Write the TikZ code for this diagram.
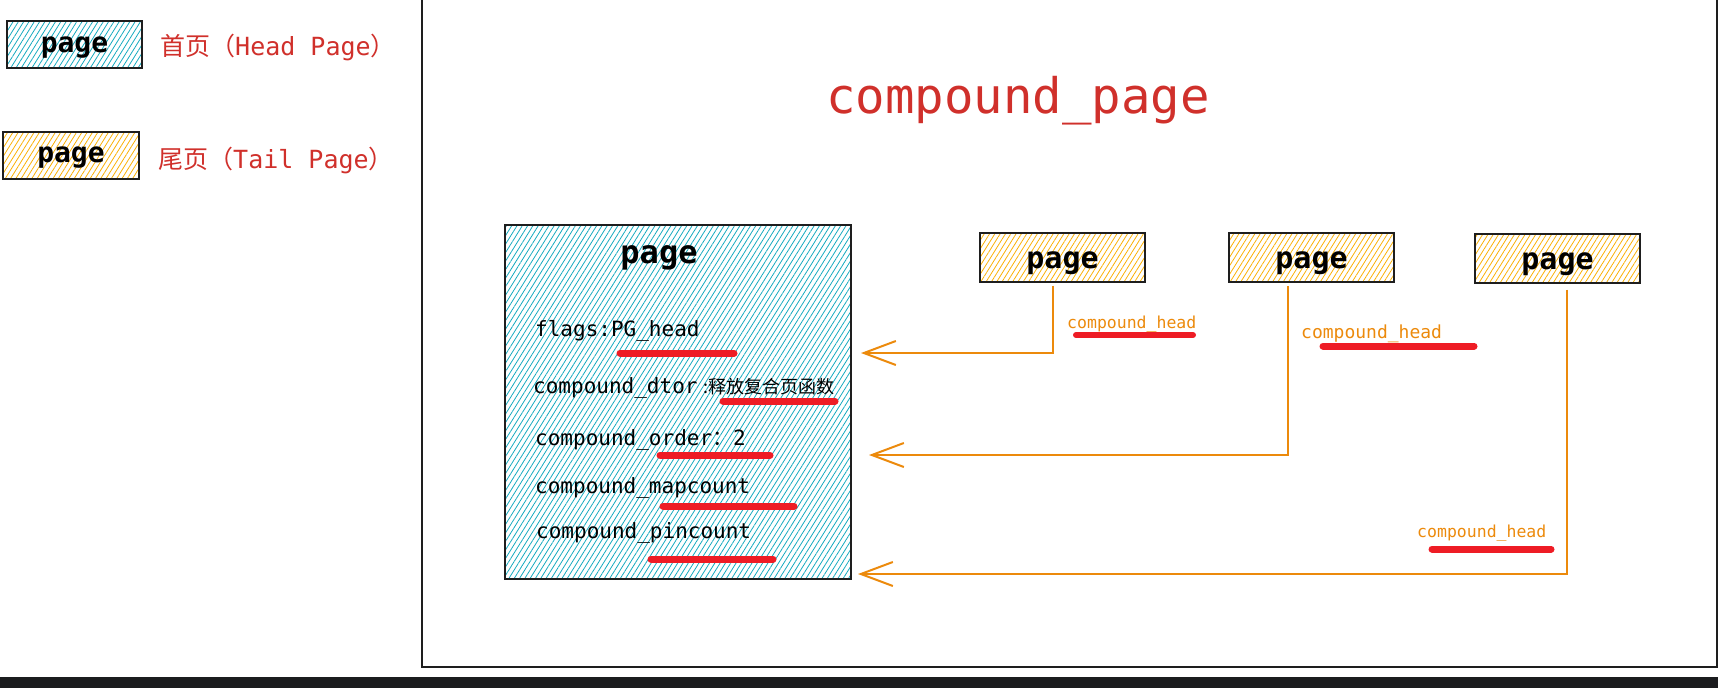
\documentclass[tikz,border=0pt]{standalone}
\usepackage{fontspec}
\setmainfont{DejaVu Sans Mono}
\newfontfamily\cjk{Noto Sans CJK SC}
\usepackage{tikz}
\usetikzlibrary{arrows.meta,positioning,patterns.meta}
\definecolor{hachblue}{HTML}{15AABF}
\definecolor{hachyellow}{HTML}{FAB005}
\definecolor{titlered}{HTML}{D0302B}
\definecolor{arrowor}{HTML}{EC8A0C}
\definecolor{markred}{HTML}{EE1C25}
\definecolor{inkblack}{HTML}{1E1E1E}
\definecolor{bandgray}{HTML}{1B1C1E}
\newcommand{\fsz}[1]{\fontsize{#1}{#1}\selectfont}

\begin{document}
\begin{tikzpicture}[x=1pt,y=-1pt,
  headpg/.style={rectangle,draw=inkblack,line width=2pt,inner sep=0pt,pattern={Lines[angle=58,distance=4.5pt,line width=0.8pt]},pattern color=hachblue},
  tailpg/.style={rectangle,draw=inkblack,line width=2pt,inner sep=0pt,pattern={Lines[angle=58,distance=4.5pt,line width=0.8pt]},pattern color=hachyellow,minimum width=165pt,minimum height=49pt,font=\fsz{30}\bfseries,text height=22pt,text depth=0pt},
  field/.style={anchor=base west,inner sep=0pt,font=\fsz{21}},
  headlbl/.style={anchor=base west,inner sep=0pt,text=arrowor},
  ptr/.style={draw=arrowor,line width=2pt,-{Straight Barb[length=32pt,width=24pt]}},
  redline/.style={draw=markred,line width=7pt,line cap=round}]
\useasboundingbox (0,0) rectangle (1718,688);

% legend
\node[headpg,minimum width=135pt,minimum height=47pt,font=\fsz{28}\bfseries,text height=15pt,text depth=0pt] (keyhead) at (74.5,44.5) {page};
\node[tailpg,minimum width=136pt,minimum height=47pt,font=\fsz{28}\bfseries,text height=14pt] (keytail) at (71,155.5) {page};
\node[anchor=base west,inner sep=0pt,text=titlered,font=\fsz{25}] (keyheadtxt) at (160,55) {{\cjk 首页（}Head Page{\cjk ）}};
\node[anchor=base west,inner sep=0pt,text=titlered,font=\fsz{25}] (keytailtxt) at (158,168) {{\cjk 尾页（}Tail Page{\cjk ）}};

% frame
\draw[inkblack,line width=2pt] (422,0) -- (422,667) -- (1717,667) -- (1717,0);
\fill[bandgray] (0,677) rectangle (1718,688);

\node[anchor=base,inner sep=0pt,text=titlered,font=\fsz{49}] (title) at (1018,113) {compound\_page};

% head page
\node[headpg,minimum width=346pt,minimum height=354pt] (head) at (678,402) {};
\node[anchor=base,inner sep=0pt,font=\fsz{32}\bfseries] (headname) at (659,263) {page};
\node[field] (flags) at (535,336) {flags:PG\_head};
\node[field] (dtor) at (533,393) {compound\_dtor\hspace{6pt}{\cjk\fsz{18}:释放复合页函数}};
\node[field] (order) at (535,445) {compound\_order{\cjk ：}2};
\node[field] (mapcnt) at (535,493) {compound\_mapcount};
\node[field] (pincnt) at (536,538) {compound\_pincount};
\draw[redline] (620,353) -- (734,353);
\draw[redline] (723,401) -- (835,401);
\draw[redline] (660,455) -- (770,455);
\draw[redline] (663,506) -- (794,506);
\draw[redline] (651,559) -- (773,559);

% tail pages
\node[tailpg] (tail1) at (1062.5,257) {page};
\node[tailpg] (tail2) at (1311.5,257.5) {page};
\node[tailpg] (tail3) at (1557.5,258) {page};

\coordinate (in1) at (861,353);
\coordinate (in2) at (869,455);
\coordinate (in3) at (858,574);
\draw[ptr] ([xshift=-9.5pt,yshift=-3pt]tail1.south) |- (in1);
\draw[ptr] ([xshift=-24pt,yshift=-3pt]tail2.south) |- (in2);
\draw[ptr] ([xshift=9.5pt,yshift=-6pt]tail3.south) |- (in3);

\node[headlbl,font=\fsz{16.5}] (lbl1) at (1067,328) {compound\_head};
\node[headlbl,font=\fsz{18}] (lbl2) at (1301,338) {compound\_head};
\node[headlbl,font=\fsz{16.5}] (lbl3) at (1417,537) {compound\_head};
\draw[redline,line width=6pt] (1076,335) -- (1193,335);
\draw[redline] (1323,346) -- (1474,346);
\draw[redline] (1432,549) -- (1551,549);
\end{tikzpicture}
\end{document}
